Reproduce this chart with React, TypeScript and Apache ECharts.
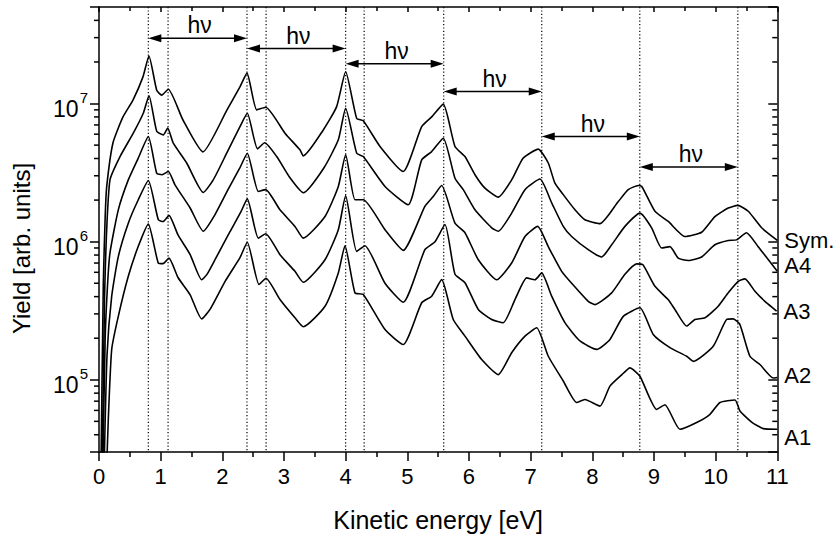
import React, { useEffect, useRef } from "react";
import * as echarts from "echarts";

const FONT = "'Liberation Sans', Arial, Helvetica, sans-serif";

// Kinetic energy [eV], yield [arb. units]
const symData: number[][] = [
  [0.03, 2e4], [0.07, 5e5], [0.1, 1.5e6], [0.125, 2.5e6], [0.227, 5.2e6], [0.389, 8.0e6],
  [0.551, 1.06e7], [0.713, 1.56e7], [0.81, 2.21e7], [0.936, 1.25e7], [1.017, 1.15e7],
  [1.124, 1.27e7], [1.362, 7.6e6], [1.686, 4.47e6], [2.076, 9.0e6], [2.286, 1.32e7],
  [2.4, 1.66e7], [2.557, 9.0e6], [2.703, 9.4e6], [3.016, 6.1e6], [3.259, 4.62e6],
  [3.313, 4.18e6], [3.637, 6.44e6], [3.854, 9.5e6], [4.0, 1.7e7], [4.179, 7.8e6],
  [4.286, 7.5e6], [4.557, 4.89e6], [4.934, 3.22e6], [5.233, 6.8e6], [5.395, 8.0e6],
  [5.583, 9.9e6], [5.773, 4.89e6], [5.935, 4.13e6], [6.097, 3.05e6], [6.259, 2.44e6],
  [6.475, 2.1e6], [6.692, 2.8e6], [6.88, 4.03e6], [7.123, 4.68e6], [7.286, 3.71e6],
  [7.394, 2.65e6], [7.529, 2.19e6], [7.719, 1.7e6], [7.88, 1.44e6], [8.124, 1.35e6],
  [8.421, 1.95e6], [8.583, 2.38e6], [8.745, 2.55e6], [8.805, 2.5e6], [9.016, 1.66e6],
  [9.232, 1.4e6], [9.501, 1.09e6], [9.772, 1.17e6], [9.988, 1.52e6], [10.204, 1.75e6],
  [10.357, 1.83e6], [10.529, 1.66e6], [10.746, 1.26e6], [11.0, 1.02e6],
];

const a4Data: number[][] = [
  [0.05, 2e4], [0.09, 4e5], [0.12, 1.1e6], [0.178, 2.8e6], [0.341, 4.13e6], [0.556, 6.1e6],
  [0.718, 8.5e6], [0.811, 1.14e7], [0.936, 6.3e6], [1.043, 5.93e6], [1.114, 6.64e6],
  [1.205, 5.16e6], [1.422, 3.71e6], [1.691, 2.27e6], [1.853, 2.8e6], [2.071, 4.37e6],
  [2.286, 6.8e6], [2.405, 8.5e6], [2.57, 4.7e6], [2.687, 5.2e6], [2.882, 4.13e6],
  [3.097, 2.9e6], [3.313, 2.26e6], [3.649, 3.43e6], [3.881, 5.46e6], [4.0, 9.25e6],
  [4.179, 4.37e6], [4.286, 4.13e6], [4.638, 2.51e6], [5.015, 1.85e6], [5.233, 3.91e6],
  [5.395, 4.49e6], [5.583, 5.61e6], [5.773, 2.88e6], [5.907, 2.38e6], [6.097, 1.7e6],
  [6.368, 1.26e6], [6.475, 1.19e6], [6.692, 1.61e6], [6.908, 2.38e6], [7.151, 2.84e6],
  [7.341, 1.91e6], [7.529, 1.29e6], [7.665, 1.09e6], [7.934, 8.75e5], [8.151, 7.75e5],
  [8.314, 9.5e5], [8.529, 1.29e6], [8.772, 1.61e6], [8.962, 1.26e6], [9.124, 9.0e5],
  [9.259, 9.2e5], [9.393, 7.6e5], [9.556, 7.3e5], [9.773, 7.75e5], [9.988, 9.5e5],
  [10.204, 1.02e6], [10.34, 1.03e6], [10.5, 1.16e6], [10.69, 9.2e5], [11.0, 6.1e5],
];

const a3Data: number[][] = [
  [0.06, 2e4], [0.1, 2e5], [0.14, 5e5], [0.178, 8.3e5], [0.313, 1.7e6], [0.475, 2.8e6],
  [0.637, 4.03e6], [0.8, 5.77e6], [0.936, 3.13e6], [1.022, 3.05e6], [1.124, 3.22e6],
  [1.232, 2.58e6], [1.476, 1.76e6], [1.691, 1.19e6], [1.881, 1.57e6], [2.092, 2.38e6],
  [2.286, 3.43e6], [2.405, 4.37e6], [2.583, 2.31e6], [2.703, 2.38e6], [2.935, 1.7e6],
  [3.178, 1.29e6], [3.313, 1.06e6], [3.665, 1.52e6], [3.881, 2.51e6], [4.0, 4.26e6],
  [4.151, 2.01e6], [4.286, 2.01e6], [4.638, 1.22e6], [4.934, 8.65e5], [5.285, 1.8e6],
  [5.42, 2.12e6], [5.557, 2.55e6], [5.773, 1.36e6], [5.935, 1.16e6], [6.151, 7.4e5],
  [6.449, 5.3e5], [6.692, 7.0e5], [6.908, 1.09e6], [7.114, 1.29e6], [7.286, 9.2e5],
  [7.503, 6.1e5], [7.665, 5.0e5], [7.934, 3.7e5], [8.043, 3.5e5], [8.314, 4.26e5],
  [8.529, 5.8e5], [8.719, 6.9e5], [8.821, 6.8e5], [9.016, 4.75e5], [9.232, 3.8e5],
  [9.34, 3.23e5], [9.53, 2.45e5], [9.664, 2.73e5], [9.826, 2.81e5], [10.042, 3.41e5],
  [10.204, 4.26e5], [10.366, 5.16e5], [10.475, 5.38e5], [10.637, 4.38e5], [10.799, 3.7e5],
  [10.989, 3.14e5],
];

const a2Data: number[][] = [
  [0.08, 2e4], [0.13, 1.5e5], [0.206, 4.03e5], [0.313, 7.8e5], [0.475, 1.36e6],
  [0.637, 2.01e6], [0.8, 2.77e6], [0.962, 1.44e6], [1.038, 1.4e6], [1.135, 1.55e6],
  [1.281, 1.12e6], [1.476, 8.1e5], [1.665, 5.3e5], [1.751, 5.8e5], [1.881, 7.4e5],
  [2.124, 1.18e6], [2.303, 1.65e6], [2.405, 2.04e6], [2.583, 1.06e6], [2.703, 1.14e6],
  [2.935, 8.05e5], [3.178, 6.1e5], [3.313, 5.08e5], [3.665, 7.4e5], [3.881, 1.22e6],
  [4.0, 2.15e6], [4.179, 8.5e5], [4.313, 9.35e5], [4.638, 5.0e5], [4.934, 3.64e5],
  [5.285, 8.75e5], [5.449, 1.0e6], [5.611, 1.33e6], [5.773, 5.8e5], [5.935, 5.04e5],
  [6.151, 3.23e5], [6.368, 2.73e5], [6.556, 2.59e5], [6.746, 3.81e5], [6.936, 5.47e5],
  [7.07, 5.3e5], [7.179, 5.94e5], [7.341, 4.03e5], [7.556, 2.59e5], [7.8, 1.91e5],
  [8.07, 1.66e5], [8.286, 1.96e5], [8.502, 2.88e5], [8.772, 3.32e5], [8.988, 2.13e5],
  [9.259, 1.71e5], [9.53, 1.48e5], [9.637, 1.36e5], [9.961, 1.75e5], [10.178, 2.73e5],
  [10.285, 2.76e5], [10.394, 2.51e5], [10.556, 1.48e5], [10.718, 1.29e5], [10.934, 1.03e5],
  [11.0, 1.04e5],
];

const a1Data: number[][] = [
  [0.12, 2e4], [0.151, 5.2e4], [0.206, 1.66e5], [0.313, 2.88e5], [0.475, 5.61e5],
  [0.637, 9.25e5], [0.8, 1.34e6], [0.962, 7.0e5], [1.038, 6.93e5], [1.135, 7.6e5],
  [1.281, 5.5e5], [1.476, 4.14e5], [1.665, 2.76e5], [1.8, 3.23e5], [2.043, 5.14e5],
  [2.286, 7.66e5], [2.405, 9.9e5], [2.595, 4.89e5], [2.708, 5.43e5], [2.935, 3.81e5],
  [3.178, 2.81e5], [3.313, 2.42e5], [3.665, 3.41e5], [3.881, 5.94e5], [3.989, 9.35e5],
  [4.151, 4.26e5], [4.286, 4.14e5], [4.638, 2.31e5], [4.934, 1.8e5], [5.233, 3.61e5],
  [5.395, 4.03e5], [5.557, 5.31e5], [5.745, 2.73e5], [5.935, 2.07e5], [6.206, 1.4e5],
  [6.475, 1.09e5], [6.692, 1.57e5], [6.908, 2.07e5], [7.098, 2.38e5], [7.286, 1.48e5],
  [7.529, 9.8e4], [7.746, 6.84e4], [7.88, 7.2e4], [8.124, 6.45e4], [8.286, 9.0e4],
  [8.481, 1.09e5], [8.61, 1.22e5], [8.772, 1.06e5], [9.043, 6.1e4], [9.178, 6.6e4],
  [9.421, 4.38e4], [9.692, 4.9e4], [9.908, 5.62e4], [10.07, 6.84e4], [10.314, 7.14e4],
  [10.394, 5.95e4], [10.589, 4.92e4], [10.772, 4.43e4], [11.0, 4.38e4],
];

const seriesNames = ["Sym.", "A4", "A3", "A2", "A1"];
const seriesLabelOffsets = [0, -6, 0, -2, 8];

// dotted guide lines (peak positions and shoulders), eV
const peakLines = [0.8, 1.12, 2.4, 2.71, 4.0, 4.3, 5.59, 7.18, 8.77, 10.36];

// hν arrows: start, end (eV) and height (yield)
const arrowStart = [0.8, 2.4, 4.0, 5.59, 7.18, 8.77];
const arrowEnd = [2.4, 4.0, 5.59, 7.18, 8.77, 10.36];
const arrowLevel = [2.97e7, 2.5e7, 1.94e7, 1.22e7, 5.77e6, 3.47e6];
const arrowText = "hν";

// axis range and minor ticks of the log axis
const yMin = 3e4;
const yMax = 5e7;
const xMin = 0;
const xMax = 11;
const yMinorTicks = [
  4e4, 5e4, 6e4, 7e4, 8e4, 9e4,
  2e5, 3e5, 4e5, 5e5, 6e5, 7e5, 8e5, 9e5,
  2e6, 3e6, 4e6, 5e6, 6e6, 7e6, 8e6, 9e6,
  2e7, 3e7, 4e7,
];

export default function App() {
  const ref = useRef<HTMLDivElement>(null);

  useEffect(() => {
    if (!ref.current) return;
    const chart = echarts.init(ref.current, null, { renderer: "svg" });
    const black = "#000";
    const axisLineStyle = { color: black, width: 1.5 };

    const datasets = [symData, a4Data, a3Data, a2Data, a1Data];

    const lineSeries = datasets.map((d, i) => ({
      type: "line",
      name: seriesNames[i],
      data: d,
      showSymbol: false,
      symbol: "none",
      smooth: 0.18,
      clip: true,
      z: 3,
      lineStyle: { color: black, width: 1.6 },
      endLabel: {
        show: true,
        formatter: seriesNames[i],
        fontSize: 22,
        fontFamily: FONT,
        color: black,
        distance: 7,
        offset: [0, seriesLabelOffsets[i]],
      },
    }));

    const option: any = {
      animation: false,
      backgroundColor: "#fff",
      grid: { left: 99, right: 60.7, top: 7, bottom: 84.5, containLabel: false },
      xAxis: [
        {
          type: "value",
          min: xMin,
          max: xMax,
          interval: 1,
          position: "bottom",
          name: "Kinetic energy [eV]",
          nameLocation: "middle",
          nameGap: 55,
          nameTextStyle: { fontSize: 25, fontFamily: FONT, color: black },
          axisLine: { show: true, onZero: false, lineStyle: axisLineStyle },
          axisTick: { show: true, inside: false, length: 9, lineStyle: axisLineStyle },
          minorTick: { show: true, splitNumber: 2, length: 5, lineStyle: axisLineStyle },
          axisLabel: { fontSize: 22, fontFamily: FONT, color: black, margin: 13 },
          splitLine: { show: false },
          minorSplitLine: { show: false },
        },
        {
          type: "value",
          min: xMin,
          max: xMax,
          interval: 1,
          position: "top",
          axisLine: { show: true, onZero: false, lineStyle: axisLineStyle },
          axisTick: { show: true, inside: true, length: 5, lineStyle: axisLineStyle },
          minorTick: { show: true, splitNumber: 2, length: 4, lineStyle: axisLineStyle },
          axisLabel: { show: false },
          splitLine: { show: false },
        },
      ],
      yAxis: [
        {
          type: "log",
          logBase: 10,
          min: yMin,
          max: yMax,
          position: "left",
          name: "Yield [arb. units]",
          nameLocation: "middle",
          nameRotate: 90,
          nameGap: 66,
          nameTextStyle: { fontSize: 24, fontFamily: FONT, color: black, padding: [0, 38, 0, 0] },
          axisLine: { show: true, onZero: false, lineStyle: axisLineStyle },
          axisTick: { show: true, inside: false, length: 9, lineStyle: axisLineStyle },
          axisLabel: {
            margin: 11,
            formatter: (v: number) => {
              const l = Math.log10(v);
              if (Math.abs(l - Math.round(l)) > 1e-6) return "";
              return `{b|10}{s|${Math.round(l)}}`;
            },
            rich: {
              b: { fontSize: 23, fontFamily: FONT, color: black, padding: [10, 0, 0, 0] },
              s: { fontSize: 15, fontFamily: FONT, color: black, verticalAlign: "top", padding: [3, 0, 0, 1] },
            },
          },
          splitLine: { show: false },
        },
        {
          type: "log",
          logBase: 10,
          min: yMin,
          max: yMax,
          position: "right",
          axisLine: { show: true, onZero: false, lineStyle: axisLineStyle },
          axisTick: { show: true, inside: true, length: 9, lineStyle: axisLineStyle },
          axisLabel: { show: false },
          splitLine: { show: false },
        },
      ],
      series: [
        ...lineSeries,
        {
          type: "custom",
          name: "minorTicks",
          xAxisIndex: 0,
          yAxisIndex: 0,
          silent: true,
          clip: false,
          z: 5,
          data: yMinorTicks.map((v) => [xMin, v]),
          renderItem: (_p: any, api: any) => {
            const v = api.value(1);
            const pl = api.coord([xMin, v]);
            const pr = api.coord([xMax, v]);
            const st = { stroke: black, lineWidth: 1.5 };
            return {
              type: "group",
              children: [
                { type: "line", shape: { x1: pl[0] - 5, y1: pl[1], x2: pl[0], y2: pl[1] }, style: st },
                { type: "line", shape: { x1: pr[0] - 5, y1: pr[1], x2: pr[0], y2: pr[1] }, style: st },
              ],
            };
          },
        },
        {
          type: "custom",
          name: "peakLines",
          xAxisIndex: 0,
          yAxisIndex: 0,
          silent: true,
          clip: false,
          z: 2,
          data: peakLines.map((e) => [e, yMin]),
          renderItem: (_p: any, api: any) => {
            const e = api.value(0);
            const pt = api.coord([e, yMax]);
            const pb = api.coord([e, yMin]);
            return {
              type: "line",
              shape: { x1: pt[0], y1: pt[1], x2: pb[0], y2: pb[1] },
              style: { stroke: "#000", lineWidth: 1.2, lineDash: [1.2, 2.2] },
            };
          },
        },
        {
          type: "custom",
          name: "arrows",
          xAxisIndex: 0,
          yAxisIndex: 0,
          silent: true,
          clip: false,
          z: 6,
          data: arrowStart.map((s, i) => [s, arrowLevel[i], arrowEnd[i]]),
          renderItem: (_p: any, api: any) => {
            const s = api.value(0);
            const lv = api.value(1);
            const e = api.value(2);
            const p1 = api.coord([s, lv]);
            const p2 = api.coord([e, lv]);
            const y = p1[1];
            const hl = 13;
            const hw = 4;
            return {
              type: "group",
              children: [
                {
                  type: "line",
                  shape: { x1: p1[0] + 6, y1: y, x2: p2[0] - 6, y2: y },
                  style: { stroke: black, lineWidth: 1.5 },
                },
                {
                  type: "polygon",
                  shape: { points: [[p1[0], y], [p1[0] + hl, y - hw], [p1[0] + hl, y + hw]] },
                  style: { fill: black },
                },
                {
                  type: "polygon",
                  shape: { points: [[p2[0], y], [p2[0] - hl, y - hw], [p2[0] - hl, y + hw]] },
                  style: { fill: black },
                },
                {
                  type: "text",
                  x: (p1[0] + p2[0]) / 2 + 2,
                  y: y - 13,
                  style: {
                    text: arrowText,
                    fontSize: 23,
                    fontFamily: FONT,
                    fill: black,
                    align: "center",
                    verticalAlign: "middle",
                  },
                },
              ],
            };
          },
        },
      ],
    };

    chart.setOption(option);
    return () => {
      chart.dispose();
    };
  }, []);

  return (
    <div
      ref={ref}
      style={{ position: "fixed", left: 0, top: 0, width: 838, height: 537, background: "#fff" }}
    />
  );
}
